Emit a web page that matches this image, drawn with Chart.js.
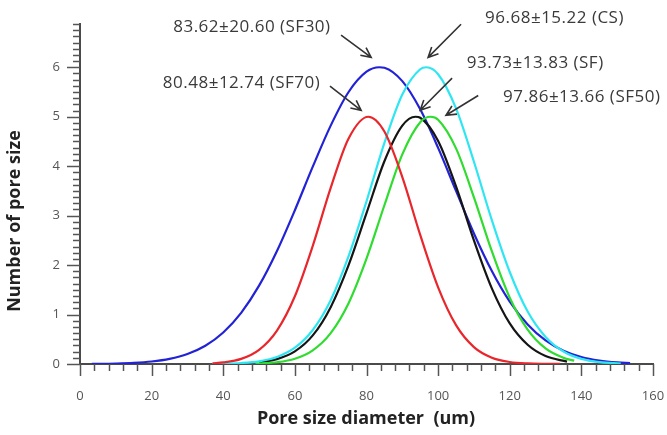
<!DOCTYPE html>
<html>
<head>
<meta charset="utf-8">
<title>Pore size distribution</title>
<script src="https://cdn.jsdelivr.net/npm/chart.js@4/dist/chart.umd.min.js"></script>
<style>
  html, body { margin: 0; padding: 0; background: #fff; }
  canvas { display: block; }
</style>
</head>
<body>
<canvas id="poreChart" width="667" height="435"></canvas>
<script>
// Pore size distribution curves (x = diameter in um, y = count)
const sf30X = [3.3, 5, 10, 15, 20, 25, 30, 35, 40, 45, 50, 55, 60, 65, 70, 75, 80, 83.6, 85, 90, 95, 100, 105, 110, 115, 120, 125, 130, 135, 140, 145, 150, 153.6];
const sf30Y = [0.003, 0.004, 0.010, 0.023, 0.051, 0.105, 0.203, 0.370, 0.638, 1.035, 1.584, 2.286, 3.11, 3.99, 4.82, 5.50, 5.91, 6.00, 5.99, 5.72, 5.15, 4.37, 3.50, 2.64, 1.88, 1.26, 0.80, 0.476, 0.268, 0.142, 0.071, 0.033, 0.019];

const sf70X = [37, 40, 45, 50, 55, 60, 65, 70, 75, 80.5, 85, 90, 95, 100, 105, 110, 115, 120, 125, 130, 134];
const sf70Y = [0.015, 0.032, 0.103, 0.286, 0.677, 1.37, 2.39, 3.56, 4.56, 5.00, 4.70, 3.78, 2.61, 1.55, 0.785, 0.341, 0.127, 0.041, 0.011, 0.003, 0.001];

const csX = [37, 40, 45, 50, 55, 60, 65, 70, 75, 80, 85, 90, 95, 96.7, 100, 105, 110, 115, 120, 125, 130, 135, 140, 145, 151];
const csY = [0.003, 0.006, 0.019, 0.054, 0.141, 0.329, 0.688, 1.29, 2.18, 3.29, 4.47, 5.45, 5.96, 6.00, 5.86, 5.17, 4.09, 2.91, 1.86, 1.06, 0.547, 0.252, 0.104, 0.039, 0.010];

const sfX = [50, 55, 60, 65, 70, 75, 80, 85, 90, 93.7, 95, 100, 105, 110, 115, 120, 125, 130, 136];
const sfY = [0.034, 0.099, 0.255, 0.578, 1.15, 2.00, 3.05, 4.10, 4.82, 5.00, 4.98, 4.51, 3.59, 2.50, 1.53, 0.82, 0.388, 0.160, 0.047];

const sf50X = [49, 55, 60, 65, 70, 75, 80, 85, 90, 95, 97.9, 100, 105, 110, 115, 120, 125, 130, 135, 138];
const sf50Y = [0.008, 0.036, 0.107, 0.277, 0.625, 1.23, 2.13, 3.21, 4.24, 4.89, 5.00, 4.94, 4.36, 3.37, 2.28, 1.34, 0.695, 0.314, 0.124, 0.067];

// Callout labels: text, text centre and arrow (all in data units)
const noteText = ['83.62±20.60 (SF30)', '80.48±12.74 (SF70)', '96.68±15.22 (CS)', '93.73±13.83 (SF)', '97.86±13.66 (SF50)'];
const notePos = [[48.0, 6.81], [45.1, 5.68], [132.5, 6.99], [127.1, 6.08], [140.1, 5.39]];
const arrowFrom = [[72.9, 6.65], [69.8, 5.62], [106.4, 6.87], [103.9, 5.78], [111.2, 5.43]];
const arrowTo = [[81.3, 6.20], [78.5, 5.13], [97.2, 6.20], [95.0, 5.13], [102.2, 5.03]];

const xTitle = 'Pore size diameter  (um)';
const yTitle = 'Number of pore size';

function points(xs, ys) {
    return xs.map((v, i) => ({ x: v, y: ys[i] }));
}

function curve(label, xs, ys, color) {
    return {
        label: label,
        data: points(xs, ys),
        borderColor: color,
        borderWidth: 2.2,
        pointRadius: 0,
        fill: false,
        cubicInterpolationMode: 'monotone'
    };
}

// ticks, axis titles and callouts
const decor = {
    id: 'decor',
    afterDraw(chart) {
        const ctx = chart.ctx;
        const x = chart.scales.x;
        const y = chart.scales.y;
        const area = chart.chartArea;
        ctx.save();

        // minor / major tick marks
        ctx.strokeStyle = '#555';
        ctx.lineWidth = 1.5;
        for (let i = 0; i <= 40; i++) {
            const px = Math.round(x.getPixelForValue(i * 4)) + 0.5;
            const len = i % 5 === 0 ? 12 : 7;
            ctx.beginPath();
            ctx.moveTo(px, area.bottom);
            ctx.lineTo(px, area.bottom + len);
            ctx.stroke();
        }
        for (let i = 0; i <= 55; i++) {
            const py = Math.round(y.getPixelForValue(i * 0.125)) + 0.5;
            const len = i % 8 === 0 ? 13 : 7;
            ctx.beginPath();
            ctx.moveTo(area.left, py);
            ctx.lineTo(area.left - len, py);
            ctx.stroke();
        }

        // axis titles
        ctx.fillStyle = '#222';
        ctx.font = 'bold 18px "Open Sans"';
        ctx.textAlign = 'center';
        ctx.textBaseline = 'middle';
        ctx.fillText(xTitle, 366, 419);
        ctx.save();
        ctx.translate(15, 221);
        ctx.rotate(-Math.PI / 2);
        ctx.fillText(yTitle, 0, 0);
        ctx.restore();

        // callouts
        ctx.font = '17px "Open Sans"';
        ctx.letterSpacing = '0.5px';
        ctx.fillStyle = '#3a3a3a';
        ctx.strokeStyle = '#333';
        ctx.lineWidth = 1.6;
        noteText.forEach((t, i) => {
            ctx.fillText(t, x.getPixelForValue(notePos[i][0]), y.getPixelForValue(notePos[i][1]));
            const x0 = x.getPixelForValue(arrowFrom[i][0]);
            const y0 = y.getPixelForValue(arrowFrom[i][1]);
            const x1 = x.getPixelForValue(arrowTo[i][0]);
            const y1 = y.getPixelForValue(arrowTo[i][1]);
            const ang = Math.atan2(y1 - y0, x1 - x0);
            const head = 11;
            ctx.beginPath();
            ctx.moveTo(x0, y0);
            ctx.lineTo(x1, y1);
            ctx.moveTo(x1 - head * Math.cos(ang - 0.45), y1 - head * Math.sin(ang - 0.45));
            ctx.lineTo(x1, y1);
            ctx.lineTo(x1 - head * Math.cos(ang + 0.45), y1 - head * Math.sin(ang + 0.45));
            ctx.stroke();
        });
        ctx.restore();
    }
};

new Chart(document.getElementById('poreChart'), {
    type: 'line',
    data: {
        datasets: [
            curve('SF70', sf70X, sf70Y, '#e8262b'),
            curve('CS', csX, csY, '#2ee6f2'),
            curve('SF50', sf50X, sf50Y, '#2fdc2f'),
            curve('SF', sfX, sfY, '#151515'),
            curve('SF30', sf30X, sf30Y, '#2222d6')
        ]
    },
    options: {
        responsive: false,
        animation: false,
        events: [],
        layout: { padding: { top: 24, right: 14, left: 0, bottom: 0 } },
        plugins: {
            legend: { display: false },
            tooltip: { enabled: false }
        },
        scales: {
            x: {
                type: 'linear',
                min: 0,
                max: 160,
                afterFit: (s) => { s.height = 71; s.paddingLeft = 0; s.paddingRight = 0; },
                grid: { display: false, drawTicks: false },
                border: { display: true, color: '#4a4a4a', width: 2 },
                ticks: {
                    stepSize: 20,
                    padding: 24,
                    color: '#555',
                    font: { family: '"Open Sans"', size: 13 }
                }
            },
            y: {
                min: 0,
                max: 6.875,
                afterFit: (s) => { s.width = 80; s.paddingTop = 0; s.paddingBottom = 0; },
                afterBuildTicks: (s) => {
                    s.ticks = [0, 1, 2, 3, 4, 5, 6].map(v => ({ value: v }));
                },
                grid: { display: false, drawTicks: false },
                border: { display: true, color: '#4a4a4a', width: 2 },
                ticks: {
                    padding: 20,
                    color: '#555',
                    font: { family: '"Open Sans"', size: 13 }
                }
            }
        }
    },
    plugins: [decor]
});
</script>
</body>
</html>
